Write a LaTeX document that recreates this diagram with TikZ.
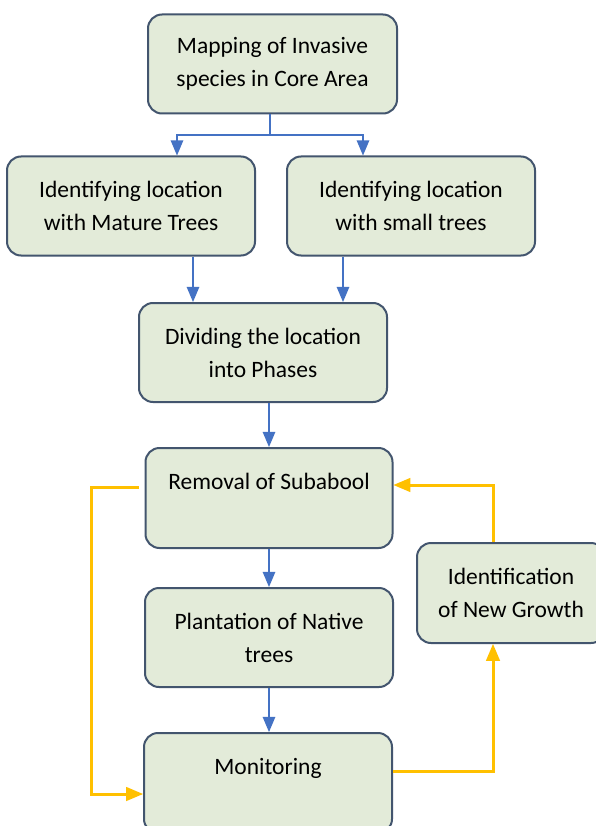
\documentclass[tikz,border=0pt]{standalone}
\usepackage{fontspec}
\setmainfont{Carlito}
\usepackage{tikz}
\usetikzlibrary{shapes.geometric,arrows}
\definecolor{boxfill}{HTML}{E3EBD9}
\definecolor{boxline}{HTML}{43556E}
\definecolor{flowblue}{HTML}{4472C4}
\definecolor{loopgold}{HTML}{FFC000}
\tikzstyle{process} = [rectangle, rounded corners=14pt, minimum width=248pt, minimum height=99pt, align=center, draw=boxline, line width=2pt, fill=boxfill, text=black, font=\fontsize{23.5}{33}\selectfont]
\tikzstyle{link} = [line width=2.6pt, draw=flowblue]
\tikzstyle{arrow} = [link, ->, >=triangle 45]
\tikzstyle{feedback} = [line width=3pt, draw=loopgold, ->, >=triangle 45]

\begin{document}
\begin{tikzpicture}[x=1pt, y=-1pt]
\clip (0,0) rectangle (596,826);
\fill [white] (0,0) rectangle (596,826);

\node (Mapping) [process, minimum width=249pt] at (272.5,64) {Mapping of Invasive\\species in Core Area};
\node (Mature) [process] at (131,206) {Identifying location\\with Mature Trees};
\node (Small) [process] at (411,206) {Identifying location\\with small trees};
\node (Dividing) [process] at (263,352.5) {Dividing the location\\into Phases};
\node (Removal) [process, minimum width=247pt, minimum height=100pt] at (269,498) {Removal of Subabool\\ \mbox{}};
\node (Plantation) [process] at (269,637.5) {Plantation of Native\\trees};
\node (Monitoring) [process, minimum height=100pt] at (268,783) {Monitoring\\ \mbox{}};
\node (Ident) [process, minimum width=188pt, minimum height=100pt] at (511,593) {Identification\\of New Growth};

% main flow
\coordinate (split) at (270,135);
\draw [link] (split |- Mapping.south) -- (split);
\draw [arrow] (split) -| ([xshift=46pt]Mature.north);
\draw [arrow] (split) -| ([xshift=-48pt]Small.north);
\coordinate (matureout) at ([xshift=62pt]Mature.south);
\coordinate (smallout) at ([xshift=-68pt]Small.south);
\draw [arrow] (matureout) -- (matureout |- Dividing.north);
\draw [arrow] (smallout) -- (smallout |- Dividing.north);
\draw [arrow] (Removal.north |- Dividing.south) -- (Removal.north);
\draw [arrow] (Removal.south) -- (Removal.south |- Plantation.north);
\draw [arrow] (Plantation.south) -- (Plantation.south |- Monitoring.north);

% feedback loops
\coordinate (railtop) at (91,487);
\draw [feedback] ([shift={(-6pt,11pt)}]Removal.west) -- (railtop) |- ([yshift=-11pt]Monitoring.west);
\draw [feedback] ([yshift=12pt]Monitoring.east) -| ([xshift=-18pt]Ident.south);
\draw [feedback] ([xshift=-18pt]Ident.north) |- ([yshift=13pt]Removal.east);
\end{tikzpicture}
\end{document}
